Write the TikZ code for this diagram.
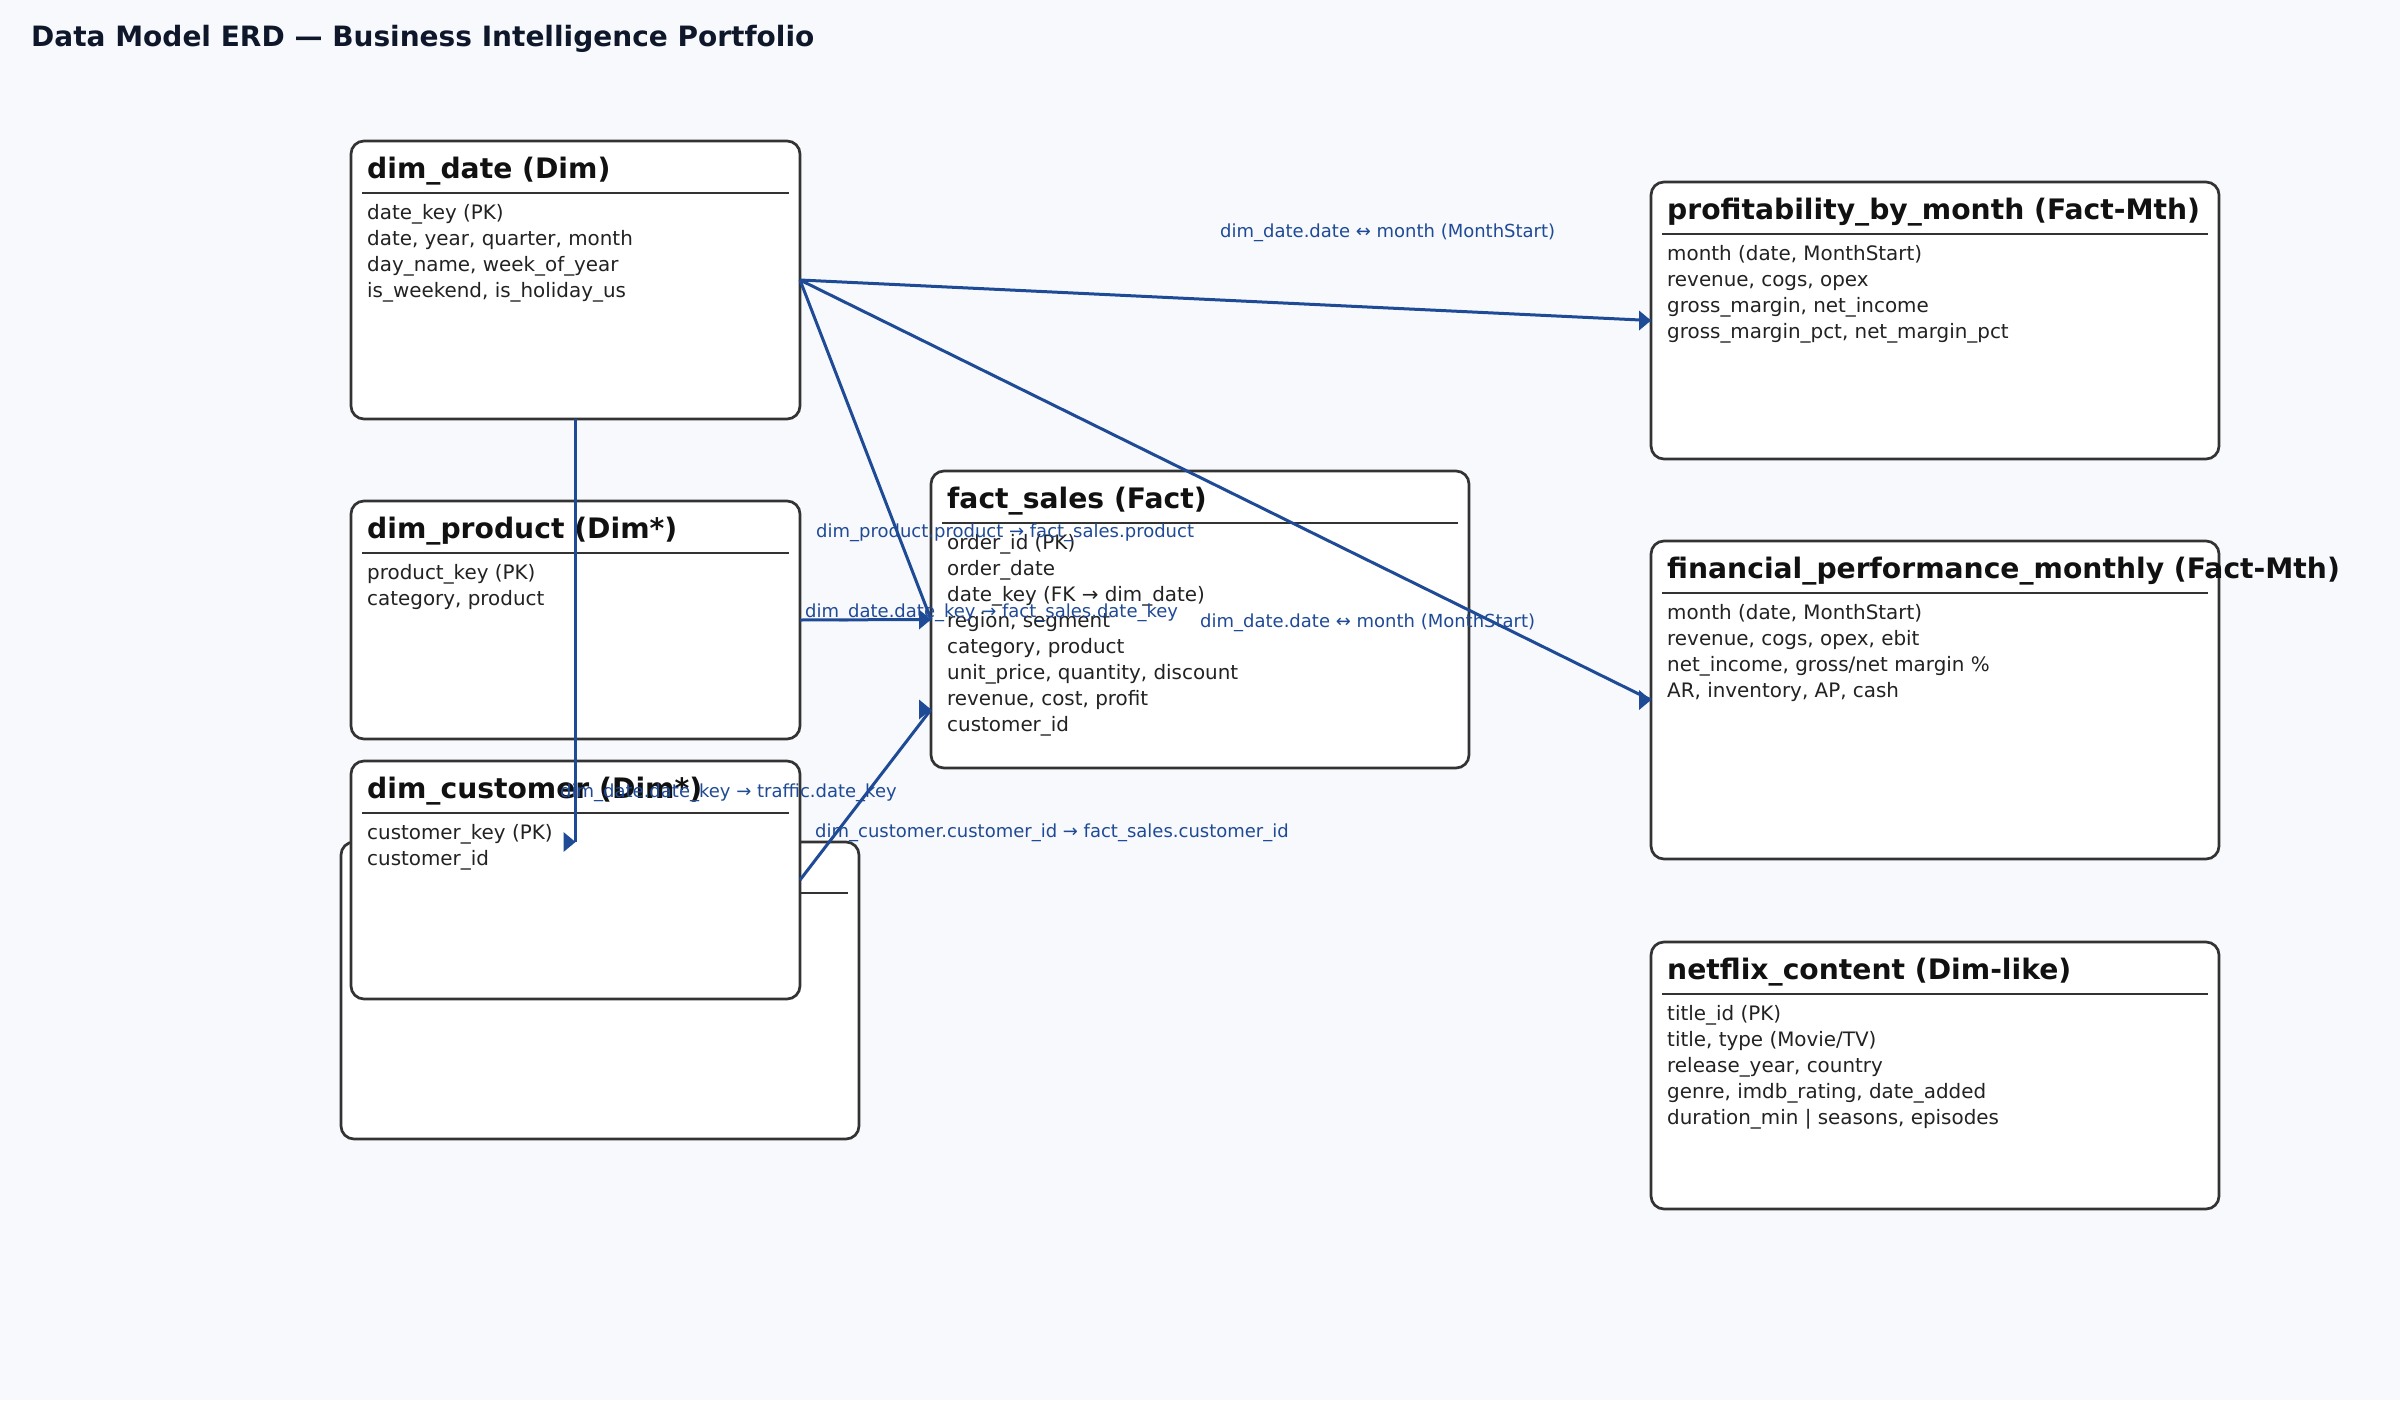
\documentclass[tikz,border=0pt]{standalone}
\usepackage{fontspec}
\setmainfont{DejaVu Sans}
\usetikzlibrary{calc}
\definecolor{bg}{HTML}{F7F9FC}
\definecolor{edge}{HTML}{333333}
\definecolor{link}{HTML}{1F4A96}
\definecolor{ink}{HTML}{111111}
\definecolor{bodyink}{HTML}{222222}
\definecolor{titleink}{HTML}{0F172A}
\tikzset{
  tbl/.style={draw=edge, line width=2.7pt, fill=white, rounded corners=13pt, inner sep=0pt, outer sep=0pt},
  sepl/.style={draw=edge, line width=2pt},
  ttl/.style={anchor=base west, inner sep=0pt, font=\fontsize{28.2}{30}\selectfont\bfseries, text=ink},
  bodyt/.style={anchor=base west, inner sep=0pt, font=\fontsize{19.9}{26}\selectfont, text=bodyink},
  lnk/.style={draw=link, line width=3pt},
  lbl/.style={anchor=base west, inner sep=0pt, font=\fontsize{18}{20}\selectfont, text=link},
  maintitle/.style={anchor=base west, inner sep=0pt, font=\fontsize{28}{32}\selectfont\bfseries, text=titleink}
}
\newcommand\erdbox[7]{%
  \node[tbl, minimum width=#4pt, minimum height=#5pt, anchor=north west] (#1) at (#2,#3) {};
  \coordinate (#1-sl) at ({#2+11},{#3+52});
  \coordinate (#1-sr) at ({#2+#4-11},{#3+52});
  \draw[sepl] (#1-sl) -- (#1-sr);
  \node[ttl] (#1-t) at ({#2+16},{#3+37}) {#6};
  \foreach \ln [count=\i] in {#7}{\node[bodyt] (#1-l\i) at ({#2+16},{#3+52+26*\i}) {\ln};}%
}
\newcommand\tipat[1]{\fill[link] (#1) -- ++(-12,-10) -- ++(0,20) -- cycle;}
\begin{document}
\begin{tikzpicture}[x=1pt,y=-1pt]
\fill[bg] (0,0) rectangle (2400,1400);
\useasboundingbox (0,0) rectangle (2400,1400);

\node[maintitle] (title) at (31,46) {Data Model ERD — Business Intelligence Portfolio};

\erdbox{dimdate}{351}{141}{449}{278}{dim\_date (Dim)}{{date\_key (PK)},{date, year, quarter, month},{day\_name, week\_of\_year},{is\_weekend, is\_holiday\_us}}
\erdbox{dimprod}{351}{501}{449}{238}{dim\_product (Dim*)}{{product\_key (PK)},{category, product}}

% partly hidden box
\node[tbl, minimum width=518pt, minimum height=297pt, anchor=north west] (traffic) at (341,842) {};
\coordinate (traffic-sl) at (352,893);
\coordinate (traffic-sr) at (848,893);
\draw[sepl] (traffic-sl) -- (traffic-sr);

\erdbox{dimcust}{351}{761}{449}{238}{dim\_customer (Dim*)}{{customer\_key (PK)},{customer\_id}}
\erdbox{fact}{931}{471}{538}{297}{fact\_sales (Fact)}{{order\_id (PK)},{order\_date},{date\_key (FK → dim\_date)},{region, segment},{category, product},{unit\_price, quantity, discount},{revenue, cost, profit},{customer\_id}}
\erdbox{prof}{1651}{182}{568}{277}{profitability\_by\_month (Fact-Mth)}{{month (date, MonthStart)},{revenue, cogs, opex},{gross\_margin, net\_income},{gross\_margin\_pct, net\_margin\_pct}}
\erdbox{fin}{1651}{541}{568}{318}{financial\_performance\_monthly (Fact-Mth)}{{month (date, MonthStart)},{revenue, cogs, opex, ebit},{net\_income, gross/net margin \%},{AR, inventory, AP, cash}}
\erdbox{netflix}{1651}{942}{568}{267}{netflix\_content (Dim-like)}{{title\_id (PK)},{title, type (Movie/TV)},{release\_year, country},{genre, imdb\_rating, date\_added},{duration\_min | seasons, episodes}}

% connectors
\draw[lnk] (dimdate.east) -- (prof.west); \tipat{prof.west}
\draw[lnk] (dimdate.east) -- (fact.west);
\draw[lnk] (dimdate.east) -- (fin.west); \tipat{fin.west}
\draw[lnk] (dimprod.east) -- (fact.west); \tipat{fact.west}
\coordinate (trafftop) at (dimdate.south |- traffic.north);
\draw[lnk] (dimdate.south) -- (trafftop); \tipat{trafftop}
\coordinate (factcust) at ($(fact.west)+(0,90)$);
\draw[lnk] (dimcust.east) -- (factcust); \tipat{factcust}

% labels
\node[lbl] (lab1) at (1220,237) {dim\_date.date ↔ month (MonthStart)};
\node[lbl] (lab2) at (1200,627) {dim\_date.date ↔ month (MonthStart)};
\node[lbl] (lab3) at (805,617) {dim\_date.date\_key → fact\_sales.date\_key};
\node[lbl] (lab4) at (816,537) {dim\_product.product → fact\_sales.product};
\node[lbl] (lab5) at (560,797) {dim\_date.date\_key → traffic.date\_key};
\node[lbl] (lab6) at (815,837) {dim\_customer.customer\_id → fact\_sales.customer\_id};
\end{tikzpicture}
\end{document}
